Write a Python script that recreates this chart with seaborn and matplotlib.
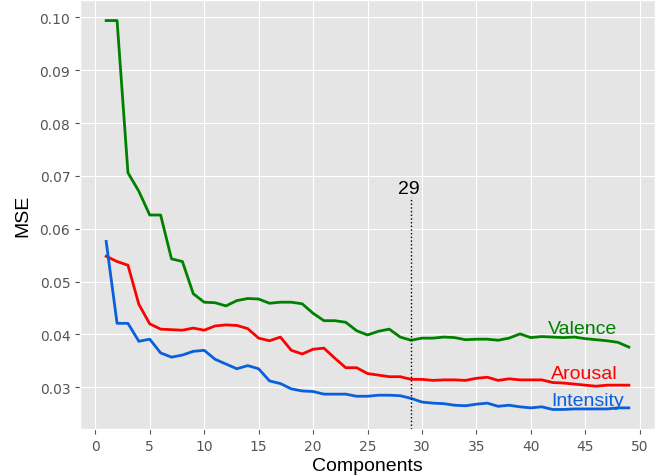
import numpy as np
import pandas as pd
import matplotlib
matplotlib.use("Agg")
import matplotlib.pyplot as plt
import seaborn as sns

# --- Data ---
components = list(range(1, 50))

valence = [0.0994, 0.0994, 0.0706, 0.0671, 0.0626, 0.0626, 0.0543, 0.0538, 0.0477, 0.0461,
           0.0460, 0.0454, 0.0464, 0.0468, 0.0467, 0.0459, 0.0461, 0.0461, 0.0458, 0.0440,
           0.0426, 0.0426, 0.0423, 0.0407, 0.0399, 0.0406, 0.0410, 0.0395, 0.0389, 0.0393,
           0.0393, 0.0395, 0.0394, 0.0390, 0.0391, 0.0391, 0.0389, 0.0393, 0.0401, 0.0394,
           0.0396, 0.0395, 0.0394, 0.0395, 0.0392, 0.0390, 0.0388, 0.0385, 0.0376]

arousal = [0.0548, 0.0538, 0.0531, 0.0457, 0.0420, 0.0410, 0.0409, 0.0408, 0.0412, 0.0408,
           0.0416, 0.0418, 0.0417, 0.0411, 0.0393, 0.0388, 0.0395, 0.0370, 0.0363, 0.0372,
           0.0374, 0.0355, 0.0337, 0.0337, 0.0326, 0.0323, 0.0320, 0.0320, 0.0315, 0.0315,
           0.0313, 0.0314, 0.0314, 0.0313, 0.0317, 0.0319, 0.0313, 0.0316, 0.0314, 0.0314,
           0.0314, 0.0309, 0.0308, 0.0306, 0.0304, 0.0302, 0.0304, 0.0304, 0.0304]

intensity = [0.0576, 0.0421, 0.0421, 0.0387, 0.0391, 0.0365, 0.0357, 0.0361, 0.0368, 0.0370,
             0.0353, 0.0344, 0.0335, 0.0341, 0.0335, 0.0312, 0.0307, 0.0297, 0.0293, 0.0292,
             0.0287, 0.0287, 0.0287, 0.0283, 0.0283, 0.0285, 0.0285, 0.0284, 0.0279, 0.0272,
             0.0270, 0.0269, 0.0266, 0.0265, 0.0268, 0.0270, 0.0264, 0.0266, 0.0263, 0.0261,
             0.0263, 0.0258, 0.0258, 0.0259, 0.0259, 0.0259, 0.0259, 0.0261, 0.0261]

best_k = 29

series = {"Valence": valence, "Arousal": arousal, "Intensity": intensity}
colors = {"Valence": "#008000", "Arousal": "#ff0000", "Intensity": "#0a5fdc"}

df = pd.DataFrame([
    {"Components": c, "MSE": v, "target": name}
    for name, vals in series.items()
    for c, v in zip(components, vals)
])

# --- Style ---
plt.style.use("ggplot")
plt.rcParams["font.family"] = ["DejaVu Sans"]
label_font = ["Liberation Sans", "DejaVu Sans"]

fig, ax = plt.subplots(figsize=(6.67, 4.77), dpi=100)

sns.lineplot(data=df, x="Components", y="MSE", hue="target", palette=colors,
             linewidth=2, legend=False, ax=ax)

ax.set_xlim(-1.4, 51.4)
ax.set_ylim(0.0221, 0.1033)
ax.set_xticks(range(0, 51, 5))
ax.set_yticks(np.arange(0.03, 0.101, 0.01))
ax.yaxis.set_major_formatter(matplotlib.ticker.FormatStrFormatter("%.2f"))
ax.tick_params(labelsize=10, colors="#555555")
ax.set_xlabel("Components", fontsize=14, color="black", labelpad=3, family=label_font)
ax.set_ylabel("MSE", fontsize=14, color="black", labelpad=6, family=label_font)

# --- Best component marker ---
ax.vlines(best_k, 0.0221, 0.0661, colors="black", linestyles=":", linewidth=1)
ax.text(27.8, 0.0668, str(best_k), ha="left", va="baseline", fontsize=14,
        color="black", family=label_font)

# --- Series labels ---
ax.text(41.6, 0.04025, "Valence", color=colors["Valence"], fontsize=14,
        ha="left", va="baseline", family=label_font)
ax.text(41.8, 0.03175, "Arousal", color=colors["Arousal"], fontsize=14,
        ha="left", va="baseline", family=label_font)
ax.text(41.9, 0.02666, "Intensity", color=colors["Intensity"], fontsize=14,
        ha="left", va="baseline", family=label_font)

plt.subplots_adjust(left=0.12, right=0.982, top=0.998, bottom=0.0985)
plt.savefig("out.png", dpi=100)
